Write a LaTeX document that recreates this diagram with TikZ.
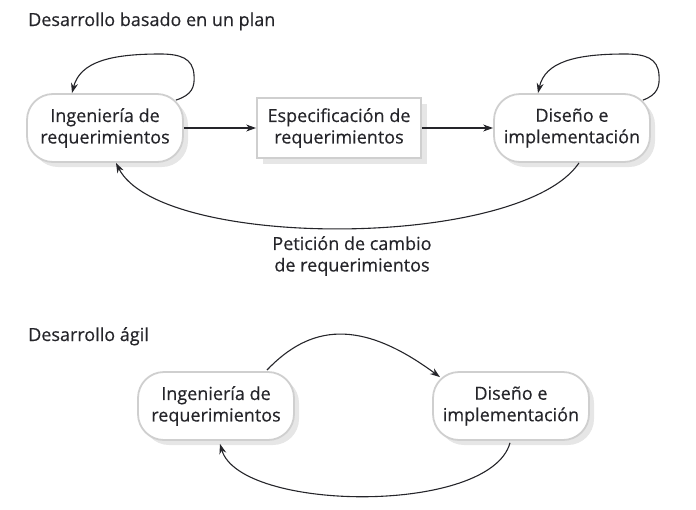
\documentclass[tikz,border=0pt]{standalone}
\usepackage{fontspec}
\setmainfont{Open Sans}[FakeBold=0.4]
\usetikzlibrary{shadows,arrows.meta}
\definecolor{boxgray}{HTML}{CFCFCF}
\definecolor{shadowgray}{HTML}{E6E6E6}
\definecolor{ink}{HTML}{25252A}
\begin{document}
\begin{tikzpicture}[x=1pt,y=-1pt,
  every node/.style={text=ink},
  boxtext/.style={font=\fontsize{18}{21.5}\selectfont, align=center},
  pill/.style={boxtext, draw=boxgray, line width=1.8pt, rounded corners=26pt, fill=white,
     minimum width=156pt, minimum height=68pt, inner sep=0pt,
     drop shadow={shadow xshift=5pt, shadow yshift=-5pt, fill=shadowgray, opacity=1}},
  rectbox/.style={boxtext, draw=boxgray, line width=1.8pt, fill=white,
     minimum width=164pt, minimum height=60pt, inner sep=0pt,
     drop shadow={shadow xshift=6pt, shadow yshift=-6pt, fill=shadowgray, opacity=1}},
  title/.style={font=\fontsize{18}{22}\selectfont, anchor=base west, inner sep=0pt},
  arr/.style={draw=ink, line width=1.1pt, -{Stealth[length=10pt,width=7pt]}}
]
\path[use as bounding box] (0,0) rectangle (696,509);

\node[title] (t1) at (28,26) {Desarrollo basado en un plan};
\node[pill] (b1) at (105,128) {Ingeniería de\\requerimientos};
\node[rectbox] (b2) at (339,128) {Especificación de\\requerimientos};
\node[pill] (b3) at (572,128) {Diseño e\\implementación};

\draw[arr] (b1.east) -- (b2.west);
\draw[arr] (b2.east) -- (b3.west);

\draw[arr] ([shift={(-8,7)}]b1.north east) .. controls (192,95) and (195,87) .. (194,75)
   .. controls (193,58) and (180,54) .. (160,54) .. controls (110,54) and (80,62) .. ([xshift=-33pt]b1.north);
\draw[arr] ([shift={(-8,7)}]b3.north east) .. controls (657,95) and (660,87) .. (659,75)
   .. controls (658,58) and (645,54) .. (625,54) .. controls (575,54) and (545,62) .. ([xshift=-34pt]b3.north);

\draw[arr] ([xshift=7pt]b3.south) .. controls (520,250) and (160,250) .. ([xshift=11pt]b1.south);
\node[boxtext] (lab) at (352,256) {Petición de cambio\\de requerimientos};

\node[title] (t2) at (28,341) {Desarrollo ágil};
\node[pill] (b4) at (216,406) {Ingeniería de\\requerimientos};
\node[pill] (b5) at (511,406) {Diseño e\\implementación};

\draw[arr] ([shift={(-28,-1)}]b4.north east) .. controls (310,325) and (360,318) .. ([shift={(-71,6)}]b5.north);
\draw[arr] ([shift={(-1,2)}]b5.south) .. controls (490,515) and (240,512) .. ([shift={(4,3)}]b4.south);
\end{tikzpicture}
\end{document}
